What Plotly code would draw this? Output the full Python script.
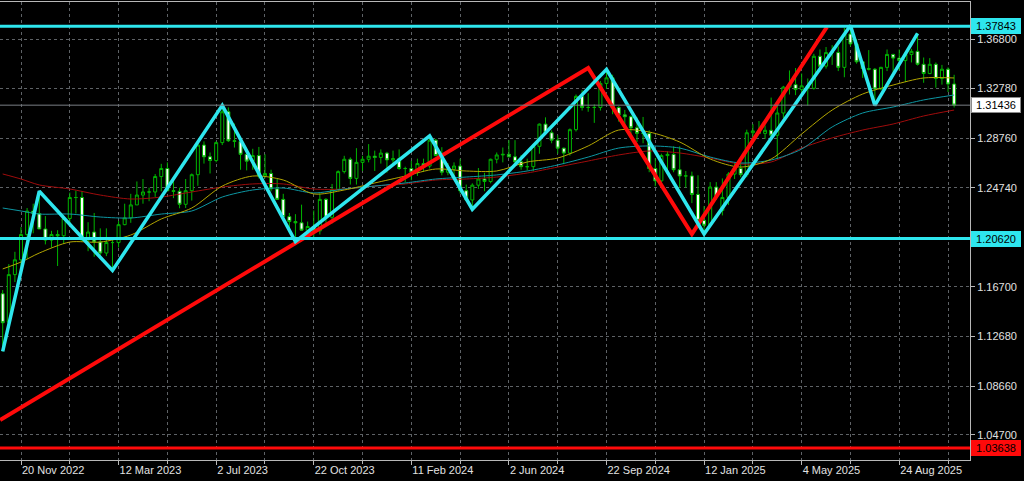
import pandas as pd
import plotly.graph_objects as go

# ---------------- data ----------------
first_week = "2022-10-30"
n_weeks = 157
weeks = pd.date_range(first_week, periods=n_weeks, freq="7D")

opens = [
    1.1615, 1.1385, 1.1770, 1.1890, 1.2095, 1.2285, 1.2265, 1.2140, 1.2050, 1.2095,
    1.2085, 1.2225, 1.2395, 1.2395, 1.2050, 1.2115, 1.2035, 1.1945, 1.2030, 1.2030,
    1.2175, 1.2230, 1.2335, 1.2415, 1.2440, 1.2440, 1.2565, 1.2630, 1.2450, 1.2445,
    1.2340, 1.2450, 1.2580, 1.2820, 1.2725, 1.2695, 1.2840, 1.3090, 1.2855, 1.2850,
    1.2745, 1.2690, 1.2735, 1.2570, 1.2590, 1.2465, 1.2380, 1.2240, 1.2200, 1.2190,
    1.2130, 1.2160, 1.2125, 1.2380, 1.2235, 1.2460, 1.2605, 1.2705, 1.2550, 1.2680,
    1.2705, 1.2730, 1.2720, 1.2755, 1.2700, 1.2710, 1.2630, 1.2630, 1.2600, 1.2670,
    1.2650, 1.2860, 1.2735, 1.2600, 1.2625, 1.2650, 1.2450, 1.2375, 1.2495, 1.2545,
    1.2525, 1.2705, 1.2740, 1.2745, 1.2725, 1.2685, 1.2645, 1.2645, 1.2810, 1.2990,
    1.2920, 1.2860, 1.2795, 1.2755, 1.2945, 1.3215, 1.3125, 1.3125, 1.3125, 1.3320,
    1.3365, 1.3125, 1.3065, 1.3050, 1.2960, 1.2915, 1.2915, 1.2630, 1.2530, 1.2735,
    1.2745, 1.2620, 1.2570, 1.2570, 1.2420, 1.2210, 1.2170, 1.2480, 1.2290, 1.2395,
    1.2585, 1.2630, 1.2580, 1.2920, 1.2935, 1.2915, 1.2940, 1.2900, 1.3080, 1.3290,
    1.3310, 1.3270, 1.3300, 1.3280, 1.3540, 1.3460, 1.3570, 1.3570, 1.3450, 1.3720,
    1.3640, 1.3495, 1.3440, 1.3435, 1.3275, 1.3450, 1.3555, 1.3525, 1.3505, 1.3555,
    1.3580, 1.3475, 1.3400, 1.3475, 1.3360, 1.3435, 1.3315,
]
highs = [
    1.1645, 1.1855, 1.1955, 1.2155, 1.2310, 1.2345, 1.2446, 1.2245, 1.2125, 1.2130,
    1.2245, 1.2435, 1.2450, 1.2448, 1.2195, 1.2270, 1.2145, 1.2145, 1.2050, 1.2205,
    1.2345, 1.2425, 1.2525, 1.2545, 1.2475, 1.2585, 1.2668, 1.2680, 1.2547, 1.2475,
    1.2545, 1.2590, 1.2848, 1.2850, 1.2760, 1.2850, 1.3142, 1.3125, 1.2995, 1.2875,
    1.2790, 1.2790, 1.2805, 1.2745, 1.2620, 1.2550, 1.2425, 1.2270, 1.2260, 1.2337,
    1.2200, 1.2290, 1.2428, 1.2390, 1.2505, 1.2615, 1.2733, 1.2720, 1.2795, 1.2733,
    1.2828, 1.2775, 1.2785, 1.2765, 1.2775, 1.2785, 1.2645, 1.2693, 1.2710, 1.2710,
    1.2894, 1.2870, 1.2803, 1.2675, 1.2680, 1.2709, 1.2500, 1.2510, 1.2634, 1.2595,
    1.2710, 1.2760, 1.2800, 1.2860, 1.2860, 1.2740, 1.2710, 1.2815, 1.2995, 1.3045,
    1.2940, 1.2900, 1.2800, 1.2955, 1.3230, 1.3265, 1.3240, 1.3150, 1.3340, 1.3434,
    1.3390, 1.3135, 1.3105, 1.3060, 1.3045, 1.3048, 1.2940, 1.2715, 1.2750, 1.2770,
    1.2810, 1.2810, 1.2610, 1.2605, 1.2575, 1.2325, 1.2520, 1.2520, 1.2550, 1.2600,
    1.2675, 1.2715, 1.2945, 1.2990, 1.3015, 1.2980, 1.3205, 1.3150, 1.3300, 1.3425,
    1.3445, 1.3400, 1.3360, 1.3560, 1.3595, 1.3615, 1.3630, 1.3620, 1.3770, 1.3789,
    1.3680, 1.3500, 1.3590, 1.3445, 1.3455, 1.3595, 1.3560, 1.3595, 1.3560, 1.3600,
    1.3726, 1.3530, 1.3525, 1.3490, 1.3470, 1.3450, 1.3390,
]
lows = [
    1.1147, 1.1335, 1.1710, 1.1780, 1.1900, 1.2105, 1.2140, 1.2015, 1.1990, 1.1840,
    1.2020, 1.2170, 1.2265, 1.2045, 1.1960, 1.1915, 1.1925, 1.1920, 1.1803, 1.1990,
    1.2170, 1.2190, 1.2335, 1.2345, 1.2365, 1.2400, 1.2445, 1.2445, 1.2390, 1.2308,
    1.2310, 1.2370, 1.2490, 1.2670, 1.2590, 1.2680, 1.2820, 1.2845, 1.2800, 1.2620,
    1.2615, 1.2620, 1.2550, 1.2550, 1.2445, 1.2375, 1.2230, 1.2110, 1.2037, 1.2125,
    1.2090, 1.2070, 1.2095, 1.2190, 1.2185, 1.2450, 1.2590, 1.2500, 1.2500, 1.2610,
    1.2680, 1.2610, 1.2670, 1.2597, 1.2670, 1.2620, 1.2518, 1.2535, 1.2570, 1.2605,
    1.2630, 1.2730, 1.2575, 1.2575, 1.2540, 1.2427, 1.2370, 1.2300, 1.2465, 1.2446,
    1.2510, 1.2672, 1.2680, 1.2720, 1.2660, 1.2620, 1.2615, 1.2610, 1.2750, 1.2910,
    1.2835, 1.2750, 1.2665, 1.2735, 1.2930, 1.3100, 1.3090, 1.3000, 1.3100, 1.3275,
    1.3070, 1.3010, 1.2975, 1.2910, 1.2845, 1.2835, 1.2600, 1.2486, 1.2520, 1.2615,
    1.2600, 1.2475, 1.2475, 1.2350, 1.2200, 1.2100, 1.2160, 1.2375, 1.2250, 1.2335,
    1.2545, 1.2560, 1.2560, 1.2860, 1.2910, 1.2870, 1.2880, 1.2710, 1.3040, 1.3230,
    1.3225, 1.3215, 1.3140, 1.3270, 1.3415, 1.3440, 1.3470, 1.3420, 1.3370, 1.3620,
    1.3480, 1.3365, 1.3425, 1.3142, 1.3265, 1.3420, 1.3390, 1.3425, 1.3330, 1.3490,
    1.3465, 1.3325, 1.3395, 1.3285, 1.3310, 1.3250, 1.3125,
]
closes = [
    1.1380, 1.1770, 1.1890, 1.2095, 1.2285, 1.2265, 1.2140, 1.2050, 1.2095, 1.2085,
    1.2225, 1.2395, 1.2395, 1.2050, 1.2115, 1.2035, 1.1945, 1.2030, 1.2030, 1.2175,
    1.2230, 1.2335, 1.2415, 1.2440, 1.2440, 1.2565, 1.2630, 1.2450, 1.2445, 1.2340,
    1.2450, 1.2580, 1.2820, 1.2725, 1.2695, 1.2840, 1.3090, 1.2855, 1.2850, 1.2745,
    1.2690, 1.2735, 1.2570, 1.2590, 1.2465, 1.2380, 1.2240, 1.2200, 1.2190, 1.2130,
    1.2160, 1.2125, 1.2380, 1.2235, 1.2460, 1.2605, 1.2705, 1.2550, 1.2680, 1.2705,
    1.2730, 1.2720, 1.2755, 1.2700, 1.2710, 1.2630, 1.2630, 1.2600, 1.2670, 1.2650,
    1.2860, 1.2735, 1.2600, 1.2625, 1.2650, 1.2450, 1.2375, 1.2495, 1.2545, 1.2525,
    1.2705, 1.2740, 1.2745, 1.2725, 1.2685, 1.2645, 1.2645, 1.2810, 1.2990, 1.2920,
    1.2860, 1.2795, 1.2755, 1.2945, 1.3215, 1.3125, 1.3125, 1.3125, 1.3320, 1.3365,
    1.3125, 1.3065, 1.3050, 1.2960, 1.2915, 1.2915, 1.2630, 1.2530, 1.2735, 1.2745,
    1.2620, 1.2570, 1.2570, 1.2420, 1.2210, 1.2170, 1.2480, 1.2400, 1.2395, 1.2585,
    1.2630, 1.2580, 1.2920, 1.2935, 1.2915, 1.2940, 1.2900, 1.3080, 1.3290, 1.3310,
    1.3270, 1.3300, 1.3280, 1.3540, 1.3460, 1.3570, 1.3570, 1.3450, 1.3720, 1.3640,
    1.3495, 1.3440, 1.3435, 1.3275, 1.3450, 1.3555, 1.3525, 1.3505, 1.3555, 1.3580,
    1.3475, 1.3400, 1.3475, 1.3360, 1.3435, 1.3315, 1.3144,
]

# moving averages at sample weeks
ma_dates = [
    "2022-10-30", "2022-11-20", "2022-12-11", "2023-01-15", "2023-02-19", "2023-03-26",
    "2023-04-30", "2023-06-04", "2023-07-09", "2023-08-13", "2023-09-17", "2023-10-22",
    "2023-11-26", "2023-12-31", "2024-02-04", "2024-03-10", "2024-04-14", "2024-05-19",
    "2024-06-23", "2024-07-28", "2024-09-01", "2024-10-06", "2024-11-10", "2024-12-15",
    "2025-01-19", "2025-02-23", "2025-03-30", "2025-05-04", "2025-06-08", "2025-07-13",
    "2025-08-17", "2025-09-21", "2025-10-26",
]
ma_fast = [
    1.1816, 1.1872, 1.1945, 1.2034, 1.2034, 1.2091, 1.2221, 1.2310, 1.2488, 1.2569,
    1.2537, 1.2424, 1.2456, 1.2513, 1.2569, 1.2626, 1.2610, 1.2610, 1.2683, 1.2715,
    1.2813, 1.2942, 1.2926, 1.2845, 1.2707, 1.2642, 1.2707, 1.2910, 1.3104, 1.3234,
    1.3307, 1.3364, 1.3364,
]
ma_mid = [
    1.2310, 1.2286, 1.2261, 1.2261, 1.2237, 1.2229, 1.2261, 1.2286, 1.2399, 1.2456,
    1.2472, 1.2432, 1.2464, 1.2488, 1.2513, 1.2545, 1.2561, 1.2578, 1.2610, 1.2659,
    1.2723, 1.2796, 1.2813, 1.2796, 1.2723, 1.2675, 1.2699, 1.2788, 1.2967, 1.3080,
    1.3129, 1.3186, 1.3226,
]
ma_slow = [
    1.2586, 1.2545, 1.2497, 1.2464, 1.2415, 1.2383, 1.2399, 1.2440, 1.2480, 1.2505,
    1.2505, 1.2464, 1.2464, 1.2488, 1.2505, 1.2537, 1.2545, 1.2561, 1.2594, 1.2642,
    1.2691, 1.2740, 1.2772, 1.2756, 1.2715, 1.2667, 1.2683, 1.2796, 1.2878, 1.2942,
    1.2991, 1.3056, 1.3104,
]

# zigzag drawings
cyan_dates = ["2022-10-30", "2022-12-11", "2023-03-05", "2023-07-09", "2023-10-01",
              "2024-03-03", "2024-04-21", "2024-09-22", "2025-01-12", "2025-06-29",
              "2025-07-27", "2025-09-14"]
cyan_prices = [1.1147, 1.2446, 1.1803, 1.3142, 1.2037, 1.2894, 1.2300, 1.3434,
               1.2100, 1.3789, 1.3142, 1.3726]
red_dates = ["2022-10-27", "2024-09-01", "2024-12-29", "2025-06-02"]
red_prices = [1.0592, 1.3445, 1.2099, 1.3777]

# horizontal levels
level_top = 1.37843
level_support = 1.20620
level_low = 1.03638
last_price = 1.31436

y_tick_values = [1.0470, 1.0866, 1.1268, 1.1670, 1.2072, 1.2474, 1.2876, 1.3278, 1.3680]
y_tick_labels = ["1.04700", "1.08660", "1.12680", "1.16700", "", "1.24740", "1.28760",
                 "1.32780", "1.36800"]
x_tick_start = "2022-11-20"

# ---------------- styling ----------------
BG = "#000000"
GRID = "#5e6266"
AXIS = "#b8b8b8"
TXT = "#e2e2e2"
CANDLE = "#00b400"
CYAN = "#2ee6ee"
RED = "#ff0a0a"
FONT = "Liberation Sans, Arial, sans-serif"
WEEK_MS = 7 * 24 * 3600 * 1000

fig = go.Figure()

for vals, col in ((ma_slow, "#a00c0c"), (ma_mid, "#0d97a3"), (ma_fast, "#b3a600")):
    fig.add_trace(go.Scatter(x=ma_dates, y=vals, mode="lines",
                             line=dict(color=col, width=1, shape="spline", smoothing=0.8),
                             hoverinfo="skip"))

fig.add_trace(go.Candlestick(
    x=weeks, open=opens, high=highs, low=lows, close=closes,
    increasing=dict(line=dict(color=CANDLE, width=1), fillcolor=BG),
    decreasing=dict(line=dict(color=CANDLE, width=1), fillcolor="#ffffff"),
    whiskerwidth=0,
))

fig.add_trace(go.Scatter(x=red_dates, y=red_prices, mode="lines",
                         line=dict(color=RED, width=4), hoverinfo="skip"))
fig.add_trace(go.Scatter(x=cyan_dates, y=cyan_prices, mode="lines",
                         line=dict(color=CYAN, width=3.5), hoverinfo="skip"))

shapes = [
    dict(type="line", xref="paper", x0=0, x1=1, yref="y", y0=last_price, y1=last_price,
         line=dict(color="#7a7e84", width=1), layer="above"),
    dict(type="line", xref="paper", x0=0, x1=1, yref="y", y0=level_top, y1=level_top,
         line=dict(color=CYAN, width=3), layer="above"),
    dict(type="line", xref="paper", x0=0, x1=1, yref="y", y0=level_support, y1=level_support,
         line=dict(color=CYAN, width=3), layer="above"),
    dict(type="line", xref="paper", x0=0, x1=1, yref="y", y0=level_low, y1=level_low,
         line=dict(color=RED, width=3), layer="above"),
]

annotations = []
for val, bg, border in ((level_top, CYAN, CYAN), (last_price, "#ffffff", "#8a8a8a"),
                        (level_support, CYAN, CYAN), (level_low, RED, RED)):
    annotations.append(dict(
        xref="paper", x=1, xanchor="left", xshift=1, yref="y", y=val, yanchor="middle",
        text=f"{val:.5f}", showarrow=False, bgcolor=bg, bordercolor=border, borderwidth=1,
        borderpad=1, width=46, align="center",
        font=dict(family=FONT, size=11, color="#000000")))

t_ref = pd.Timestamp(x_tick_start)
x_left = t_ref - pd.Timedelta(days=24.1)
x_right = t_ref + pd.Timedelta(days=1089.2)

fig.update_layout(
    width=1024, height=481,
    margin=dict(l=0, r=54, t=2, b=21),
    paper_bgcolor=BG, plot_bgcolor=BG,
    showlegend=False,
    shapes=shapes, annotations=annotations,
    font=dict(family=FONT, size=11, color=TXT),
    hovermode=False,
    xaxis=dict(
        type="date", range=[x_left, x_right],
        tick0=x_tick_start, dtick=16 * WEEK_MS, tickformat="%-d %b %Y",
        ticks="outside", ticklen=4, tickcolor=AXIS,
        ticklabelposition="outside right",
        tickfont=dict(family=FONT, size=11, color=TXT),
        showgrid=True, gridcolor=GRID, griddash="dot", gridwidth=1,
        minor=dict(tick0=x_tick_start, dtick=8 * WEEK_MS, showgrid=True, gridcolor=GRID,
                   griddash="dot", gridwidth=1, ticks="outside", ticklen=3, tickcolor=AXIS),
        showline=True, linecolor=AXIS, linewidth=1, mirror=True,
        zeroline=False, rangeslider=dict(visible=False), fixedrange=True,
    ),
    yaxis=dict(
        side="right", range=[1.02673, 1.39799],
        tickvals=y_tick_values, ticktext=y_tick_labels,
        ticks="outside", ticklen=4, tickcolor=AXIS,
        tickfont=dict(family=FONT, size=11, color=TXT),
        showgrid=True, gridcolor=GRID, griddash="dot", gridwidth=1,
        showline=True, linecolor=AXIS, linewidth=1,
        zeroline=False, fixedrange=True,
    ),
)

fig.write_html("out.html", config={"displayModeBar": False},
               post_script="document.body.style.margin='0';")
